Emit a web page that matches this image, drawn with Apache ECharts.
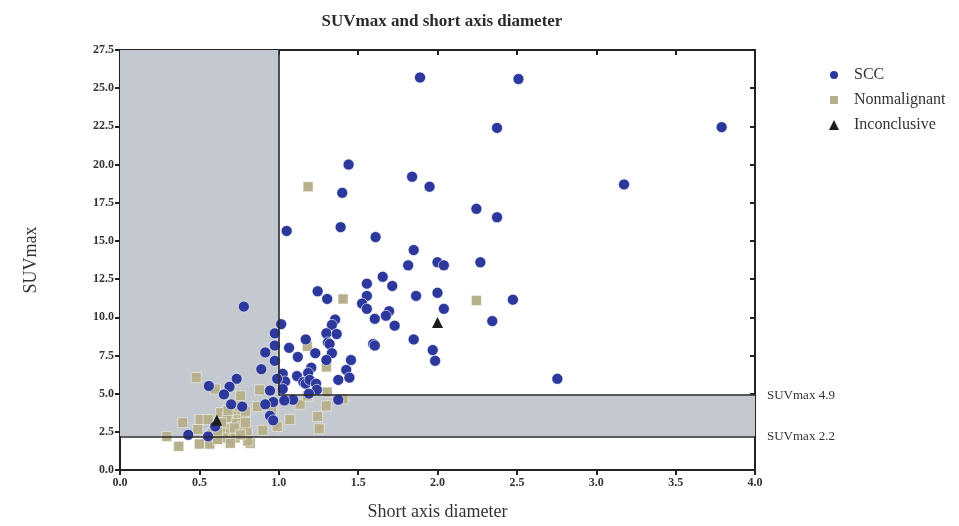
<!DOCTYPE html>
<html>
<head>
<meta charset="utf-8">
<script src="https://cdn.jsdelivr.net/npm/echarts@6/dist/echarts.min.js"></script>
<style>
  html, body { margin: 0; padding: 0; background: #fff; }
  #chart { width: 959px; height: 526px; }
</style>
</head>
<body>
<div id="chart"></div>
<script>
// Lesion measurements: [short axis diameter, SUVmax]
const sccPoints = [
  [1.89, 25.7], [2.51, 25.6], [2.375, 22.4], [3.79, 22.45], [1.44, 20.0],
  [1.84, 19.2], [1.95, 18.55], [3.175, 18.7], [1.40, 18.15], [2.245, 17.1],
  [2.375, 16.55], [1.39, 15.9], [1.05, 15.65], [1.61, 15.25], [1.85, 14.4],
  [1.815, 13.4], [2.0, 13.6], [2.04, 13.4], [2.27, 13.6], [1.655, 12.65],
  [1.555, 12.2], [1.715, 12.05], [1.245, 11.7], [1.305, 11.2], [1.555, 11.4],
  [1.525, 10.9], [1.555, 10.55], [1.865, 11.4], [2.0, 11.6], [2.475, 11.15],
  [2.04, 10.55], [1.605, 9.9], [1.695, 10.4], [1.675, 10.1], [1.73, 9.45],
  [1.355, 9.85], [1.335, 9.5], [2.345, 9.75], [1.30, 8.95], [1.365, 8.9],
  [1.015, 9.55], [1.17, 8.55], [1.31, 8.35], [1.32, 8.25], [1.595, 8.25],
  [1.605, 8.15], [1.85, 8.55], [1.97, 7.85], [1.985, 7.15], [1.065, 8.0],
  [1.12, 7.4], [1.23, 7.65], [1.335, 7.65], [1.30, 7.2], [1.455, 7.2],
  [1.425, 6.55], [1.445, 6.05], [1.375, 5.9], [1.205, 6.7], [1.185, 6.35],
  [1.115, 6.15], [1.155, 5.75], [1.17, 5.65], [1.195, 5.9], [1.235, 5.65],
  [1.24, 5.25], [1.19, 5.0], [1.025, 6.3], [1.04, 5.8], [1.025, 5.3],
  [2.755, 5.97], [1.09, 4.6], [1.035, 4.55], [1.375, 4.6],
  [0.78, 10.7], [0.975, 8.95], [0.975, 8.15], [0.915, 7.7], [0.975, 7.15],
  [0.89, 6.6], [0.99, 5.97], [0.945, 5.2], [0.965, 4.45], [0.915, 4.3],
  [0.945, 3.55], [0.965, 3.25], [0.77, 4.15], [0.735, 5.97], [0.56, 5.5],
  [0.69, 5.45], [0.655, 4.95], [0.70, 4.3], [0.60, 2.85], [0.43, 2.3],
  [0.555, 2.2]
];

const nonmalignantPoints = [
  [1.185, 18.55], [1.405, 11.2], [2.245, 11.1], [1.18, 8.1], [1.30, 6.75],
  [1.305, 5.1], [1.30, 4.2], [1.405, 4.65], [1.135, 4.3], [1.07, 3.3],
  [1.245, 3.5], [1.255, 2.7], [0.88, 5.25], [0.865, 4.15], [0.90, 2.6],
  [0.99, 2.85], [0.48, 6.05], [0.60, 5.3], [0.76, 4.85], [0.395, 3.1],
  [0.505, 3.3], [0.49, 2.65], [0.295, 2.2], [0.37, 1.55], [0.50, 1.7],
  [0.565, 1.7], [0.82, 1.75], [0.635, 3.75], [0.675, 3.45], [0.745, 3.65],
  [0.775, 3.3], [0.735, 3.05], [0.66, 2.7], [0.695, 2.4], [0.77, 2.85],
  [0.80, 2.55], [0.65, 2.1], [0.725, 2.1], [0.695, 1.75], [0.58, 2.4],
  [0.555, 3.3], [0.615, 2.0], [0.805, 1.9], [0.705, 3.95], [0.79, 3.85],
  [0.72, 2.75], [0.64, 3.1], [0.76, 2.3], [0.68, 3.9], [0.75, 4.2],
  [0.615, 2.55], [0.79, 3.1], [0.955, 3.9], [1.18, 4.85]
];

const inconclusivePoints = [
  [0.61, 3.25], [2.0, 9.65]
];

// SUVmax cut-offs and the diameter cut-off
const suvLow = 2.2;
const suvHigh = 4.9;
const diameterCut = 1.0;

const xMin = 0, xMax = 4.0, xStep = 0.5;
const yMin = 0, yMax = 27.5, yStep = 2.5;

const serif = '"Liberation Serif", "DejaVu Serif", serif';
const fmt1 = v => v.toFixed(1);

const chart = echarts.init(document.getElementById('chart'));

const lineStyle = { color: '#2a2a2a', width: 1.6, type: 'solid' };

chart.setOption({
  animation: false,
  backgroundColor: '#fff',
  title: {
    text: 'SUVmax and short axis diameter',
    left: 437,
    top: 8,
    textAlign: 'center',
    textStyle: { fontFamily: serif, fontSize: 17, fontWeight: 'bold', color: '#2b2b2b' }
  },
  legend: {
    data: ['SCC', 'Nonmalignant', 'Inconclusive'],
    orient: 'vertical',
    left: 823,
    top: 62,
    itemWidth: 10,
    itemHeight: 10,
    itemGap: 9,
    textStyle: { fontFamily: serif, fontSize: 16, color: '#333', padding: [0, 0, 0, 10] }
  },
  grid: { left: 120, right: 204, top: 50, bottom: 52, containLabel: false },
  xAxis: [{
    type: 'value',
    min: xMin, max: xMax, interval: xStep,
    name: 'Short axis diameter',
    nameLocation: 'middle',
    nameGap: 33,
    nameTextStyle: { fontFamily: serif, fontSize: 18, color: '#333' },
    axisLine: { show: true, lineStyle: { color: '#222', width: 2 } },
    axisTick: { show: true, length: 5, lineStyle: { color: '#222', width: 2 } },
    axisLabel: { formatter: fmt1, fontFamily: serif, fontSize: 12, fontWeight: 'bold', color: '#333', margin: 7 },
    splitLine: { show: false }
  }, {
    type: 'value',
    position: 'top',
    min: xMin, max: xMax, interval: xStep,
    axisLine: { show: true, onZero: false, lineStyle: { color: '#222', width: 2 } },
    axisTick: { show: true, inside: true, length: 5, lineStyle: { color: '#222', width: 2 } },
    axisLabel: { show: false },
    splitLine: { show: false }
  }],
  yAxis: [{
    type: 'value',
    min: yMin, max: yMax, interval: yStep,
    name: 'SUVmax',
    nameLocation: 'middle',
    nameGap: 80,
    nameTextStyle: { fontFamily: serif, fontSize: 18, color: '#333' },
    axisLine: { show: true, lineStyle: { color: '#222', width: 2 } },
    axisTick: { show: true, length: 5, lineStyle: { color: '#222', width: 2 } },
    axisLabel: { formatter: fmt1, fontFamily: serif, fontSize: 12, fontWeight: 'bold', color: '#333', margin: 6 },
    splitLine: { show: false }
  }, {
    type: 'value',
    position: 'right',
    min: yMin, max: yMax, interval: yStep,
    axisLine: { show: true, onZero: false, lineStyle: { color: '#222', width: 2 } },
    axisTick: { show: true, inside: true, length: 5, lineStyle: { color: '#222', width: 2 } },
    axisLabel: { show: false },
    splitLine: { show: false }
  }],
  series: [
    {
      // shaded zones and cut-off lines
      name: 'zones',
      type: 'scatter',
      data: [],
      z: 1,
      silent: true,
      markArea: {
        silent: true,
        itemStyle: { color: '#c4c8cf' },
        data: [
          [{ coord: [xMin, suvLow] }, { coord: [diameterCut, yMax] }],
          [{ coord: [diameterCut, suvLow] }, { coord: [xMax, suvHigh] }]
        ]
      },
      markLine: {
        silent: true,
        symbol: 'none',
        lineStyle: lineStyle,
        label: { show: false },
        data: [
          [{ coord: [diameterCut, suvHigh] }, { coord: [diameterCut, yMax] }],
          [{ coord: [diameterCut, suvHigh] }, {
            coord: [xMax, suvHigh],
            label: { show: true, position: 'end', distance: 12, formatter: 'SUVmax ' + suvHigh,
              fontFamily: serif, fontSize: 13, color: '#333' }
          }],
          [{ coord: [xMin, suvLow] }, {
            coord: [xMax, suvLow],
            label: { show: true, position: 'end', distance: 12, formatter: 'SUVmax ' + suvLow,
              fontFamily: serif, fontSize: 13, color: '#333' }
          }]
        ]
      }
    },
    {
      name: 'SCC',
      type: 'scatter',
      symbol: 'circle',
      symbolSize: 11,
      z: 4,
      itemStyle: { color: '#2c389c', borderColor: '#ffffff', borderWidth: 0.6, opacity: 1 },
      data: sccPoints
    },
    {
      name: 'Nonmalignant',
      type: 'scatter',
      symbol: 'rect',
      symbolSize: 10,
      z: 3,
      itemStyle: { color: '#b6b08c', borderColor: '#ffffff', borderWidth: 0.5, opacity: 1 },
      data: nonmalignantPoints
    },
    {
      name: 'Inconclusive',
      type: 'scatter',
      symbol: 'triangle',
      symbolSize: 11,
      z: 5,
      itemStyle: { color: '#1c1c1c', opacity: 1 },
      data: inconclusivePoints
    }
  ]
});
</script>
</body>
</html>
